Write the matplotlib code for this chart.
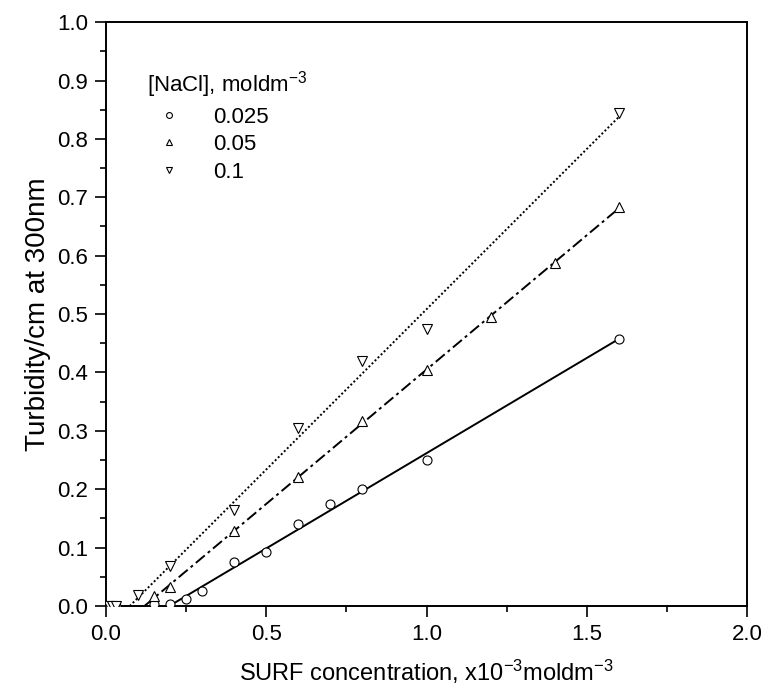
import numpy as np
import matplotlib
matplotlib.use("Agg")
import matplotlib.pyplot as plt
from matplotlib.ticker import MultipleLocator

plt.rcParams["font.family"] = ["Liberation Sans", "DejaVu Sans"]
plt.rcParams["mathtext.default"] = "regular"

# [NaCl] = 0.025
x_025 = [0.01, 0.02, 0.03, 0.15, 0.2, 0.25, 0.3, 0.4, 0.5, 0.6, 0.7, 0.8, 1.0, 1.6]
y_025 = [0.0, 0.0, 0.0, 0.003, 0.003, 0.012, 0.025, 0.075, 0.092, 0.14, 0.175, 0.2, 0.25, 0.457]
# [NaCl] = 0.05
x_05 = [0.01, 0.02, 0.03, 0.15, 0.2, 0.4, 0.6, 0.8, 1.0, 1.2, 1.4, 1.6]
y_05 = [0.0, 0.0, 0.0, 0.017, 0.033, 0.128, 0.221, 0.317, 0.404, 0.495, 0.587, 0.683]
# [NaCl] = 0.1
x_1 = [0.01, 0.02, 0.03, 0.1, 0.2, 0.4, 0.6, 0.8, 1.0, 1.6]
y_1 = [0.0, 0.0, 0.0, 0.018, 0.068, 0.164, 0.305, 0.42, 0.475, 0.845]

labels = ["0.025", "0.05", "0.1"]
markers = ["o", "^", "v"]
linestyles = ["-", (0, (6, 2, 1.5, 2)), (0, (1, 1.2))]
fit_end = 1.6

fig = plt.figure(figsize=(7.81, 6.91), dpi=100)
ax = fig.add_axes([0.1357, 0.123, 0.8208, 0.845])

series = [(x_025, y_025), (x_05, y_05), (x_1, y_1)]
for (xs, ys), lab, mk, ls in zip(series, labels, markers, linestyles):
    xs = np.array(xs)
    ys = np.array(ys)
    ax.plot(xs, ys, linestyle="none", marker=mk, markersize=6.5,
            markerfacecolor="white", markeredgecolor="black",
            markeredgewidth=0.8, label=lab, zorder=3)
    # linear fit over the rising part, drawn from the x-intercept
    sel = ys > 0.01
    k, b = np.polyfit(xs[sel], ys[sel], 1)
    x0 = -b / k
    ax.plot([x0, fit_end], [0, k * fit_end + b], color="black",
            linestyle=ls, linewidth=1.4, zorder=2)

ax.set_xlim(0, 2.0)
ax.set_ylim(0, 1.0)
ax.xaxis.set_major_locator(MultipleLocator(0.5))
ax.xaxis.set_minor_locator(MultipleLocator(0.25))
ax.yaxis.set_major_locator(MultipleLocator(0.1))
ax.yaxis.set_minor_locator(MultipleLocator(0.05))
ax.xaxis.set_major_formatter(plt.FormatStrFormatter("%.1f"))
ax.yaxis.set_major_formatter(plt.FormatStrFormatter("%.1f"))
ax.tick_params(which="both", direction="out", top=False, right=False,
               labelsize=16, width=1.2, pad=5)
ax.tick_params(which="major", length=8)
ax.tick_params(which="minor", length=4.5)
for sp in ax.spines.values():
    sp.set_linewidth(1.4)

ax.set_xlabel("SURF concentration, x10$^{-3}$moldm$^{-3}$", fontsize=17, labelpad=9)
ax.set_ylabel("Turbidity/cm at 300nm", fontsize=20, labelpad=4)

leg = ax.legend(loc="upper left", bbox_to_anchor=(0.05, 0.935), frameon=False,
                title="[NaCl], moldm$^{-3}$", fontsize=16, title_fontsize=16,
                markerscale=0.65, handletextpad=1.0, labelspacing=0.3,
                borderaxespad=0)
leg._legend_box.align = "left"

fig.savefig("out.png", dpi=100)
